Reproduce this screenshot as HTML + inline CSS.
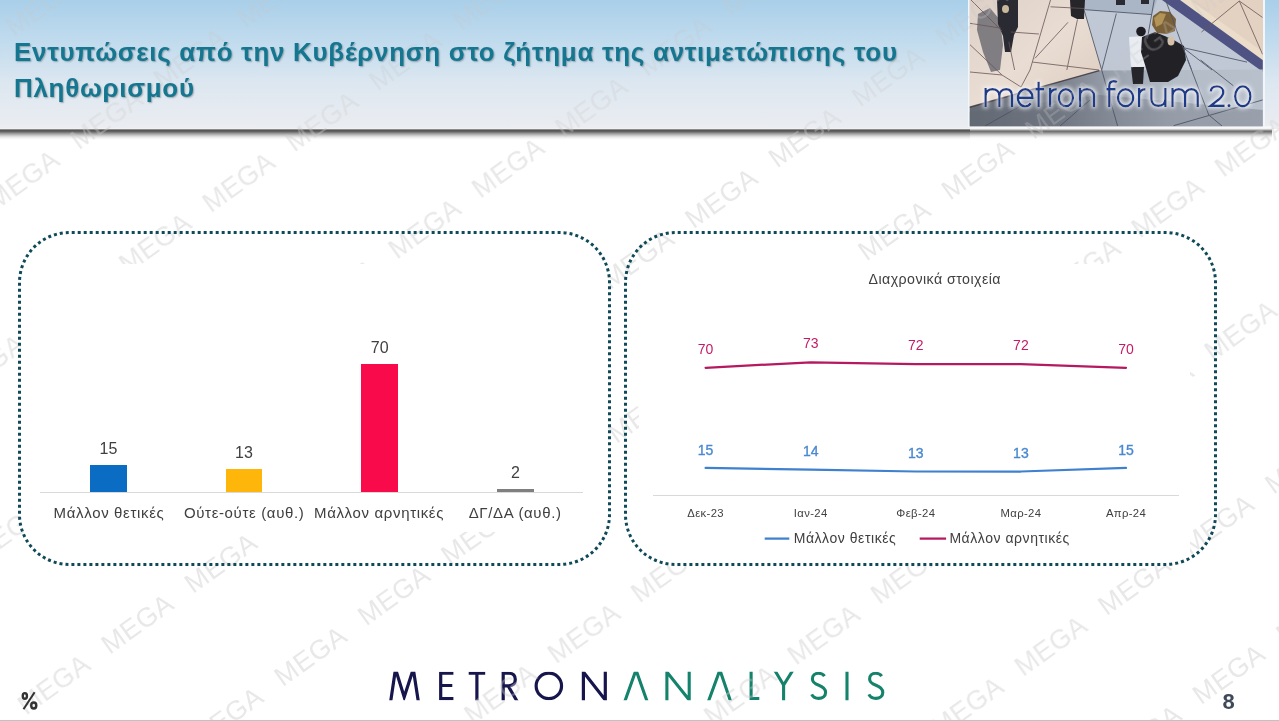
<!DOCTYPE html>
<html><head><meta charset="utf-8">
<style>
*{margin:0;padding:0;box-sizing:border-box}
html,body{width:1279px;height:721px;overflow:hidden;background:#fff}
body{position:relative;font-family:"Liberation Sans",sans-serif;color:#404040}
.a{position:absolute}
#hdr{left:0;top:0;width:1279px;height:129px;background:linear-gradient(to bottom,#a9cfe9 0%,#c3dcee 35%,#dde7f0 65%,#ebedf1 100%)}
#shad{left:0;top:128px;width:1272px;height:12px;background:linear-gradient(to bottom,#f0f1f3 0px,#f0f1f3 1px,#8c8c8c 1px,#8c8c8c 2px,#575757 2px,#575757 3px,#626262 3px,#626262 4px,#7e7e7e 4px,#7e7e7e 5px,#999999 5px,#999999 6px,#b2b2b2 6px,#b2b2b2 7px,#c9c9c9 7px,#c9c9c9 8px,#dddddd 8px,#dddddd 9px,#ececec 9px,#ececec 10px,#f6f6f6 10px,#f6f6f6 11px,#fdfdfd 11px,#fdfdfd 12px)}
#shad2{left:969.5px;top:126px;width:302.5px;height:13px;background:linear-gradient(to bottom,#f6f6f6 0px,#f6f6f6 1px,#f8f8f8 1px,#f8f8f8 2px,#f4f4f4 2px,#f4f4f4 3px,#c8c8c8 3px,#c8c8c8 4px,#8e8e8e 4px,#8e8e8e 5px,#727272 5px,#727272 6px,#8a8a8a 6px,#8a8a8a 7px,#a6a6a6 7px,#a6a6a6 8px,#c2c2c2 8px,#c2c2c2 9px,#d9d9d9 9px,#d9d9d9 10px,#ebebeb 10px,#ebebeb 11px,#f6f6f6 11px,#f6f6f6 12px,#fcfcfc 12px,#fcfcfc 13px)}
#wm{left:0;top:0}
#wm text{font-family:"Liberation Sans",sans-serif;font-size:27px;letter-spacing:.5px;fill:rgb(200,200,200);fill-opacity:.42}
#title{left:14px;top:34px;font-weight:bold;font-size:26px;line-height:36px;letter-spacing:.69px;color:#14768f;text-shadow:1px 1px 1.5px rgba(40,50,60,.35);white-space:nowrap}
.w{background:#fff}
.t{white-space:nowrap;line-height:1}
.lbl{font-size:15px;letter-spacing:.65px;color:#404040}
.num{font-size:16px;color:#404040;width:60px;text-align:center}
.xl{font-size:11.3px;letter-spacing:.35px;color:#404040;width:80px;text-align:center}
.ml{font-size:14px;color:#c41b68;width:40px;text-align:center}
.bl{font-size:14px;color:#4a88d0;width:40px;text-align:center;-webkit-text-stroke:.35px #4a88d0}
</style></head><body>
<div id="hdr" class="a"></div>
<div id="shad" class="a"></div>
<div id="shad2" class="a"></div>
<div class="a" style="left:968px;top:0;width:296.5px;height:127px;background:#f3f6f9"></div>

<!-- photo -->
<svg class="a" style="left:0;top:0" width="1279" height="130">
 <defs>
  <clipPath id="pc"><rect x="969.5" y="0" width="293.3" height="126.3"/></clipPath>
  <linearGradient id="lowg" x1="0" y1="0" x2="1" y2="0">
   <stop offset="0" stop-color="#666c76"/><stop offset=".3" stop-color="#7a808b"/><stop offset=".5" stop-color="#9aa2ae"/><stop offset=".7" stop-color="#b4bcc8"/><stop offset="1" stop-color="#b8c0cc"/>
  </linearGradient>
  <linearGradient id="beig" x1="0" y1="0" x2="1" y2="1">
   <stop offset="0" stop-color="#ded0c6"/><stop offset=".5" stop-color="#e9ddd3"/><stop offset="1" stop-color="#dccabd"/>
  </linearGradient>
  <filter id="glow" x="-10%" y="-30%" width="120%" height="160%">
   <feMorphology in="SourceAlpha" operator="dilate" radius="1.4" result="d"/>
   <feGaussianBlur in="d" stdDeviation="1.9" result="b"/>
   <feFlood flood-color="#f4f6fa" flood-opacity=".95"/>
   <feComposite in2="b" operator="in" result="g"/>
   <feMerge><feMergeNode in="g"/><feMergeNode in="SourceGraphic"/></feMerge>
  </filter>
  <filter id="soft"><feGaussianBlur stdDeviation="0.6"/></filter>
 </defs>
 <g clip-path="url(#pc)">
  <rect x="969.5" y="0" width="293.3" height="127" fill="#c0c8d5"/>
  <polygon points="969.5,0 1084.3,0 1084.3,10.7 1101.7,70 1099.3,70.6 969.5,107.2" fill="url(#beig)"/>
  <polygon points="1084.3,0 1157,0 1152,14.6 1085.2,9.7" fill="#aab5c6"/>
  <polygon points="1179,0 1263,0 1263,60.8" fill="#e3d2c2"/>
  <polygon points="1179,0 1190,0 1263,52 1263,60.8" fill="#ece0cc" opacity=".8"/>
  <polygon points="1162,0 1180,0 1263,60.2 1263,72" fill="#4f5384"/>
  <polygon points="969.5,107.2 1099.3,70.6 1263,69.6 1263,127 969.5,127" fill="url(#lowg)"/>
  <polygon points="969.5,112 1100,95 1263,110 1263,127 969.5,127" fill="#5f6570" opacity=".35"/>
  <g filter="url(#soft)">
   <polygon points="978,14 990,8 1000,20 1003,45 1000,70 991,72 983,52 977,30" fill="#6e6f74" opacity=".85"/>
   <polygon points="997,0 1018,0 1018,27 1014,35 1011,52 1005,52 1003,36 998,24" fill="#2b2b31"/>
   <ellipse cx="1005.5" cy="9" rx="3.5" ry="4" fill="#c9b89a"/>
   <polygon points="1070,0 1085,0 1084,19 1077,19 1071,16" fill="#26262b"/>
   <rect x="1116" y="0" width="9" height="5" fill="#2c2c30"/>
   <rect x="1141" y="0" width="8" height="4" fill="#2c2c30"/>
   <polygon points="1129,37 1147,36 1149,66 1131,68" fill="#e9edf1"/>
   <polygon points="1131,67 1144,67 1143,84 1133,84" fill="#25252a"/>
   <circle cx="1141" cy="31.5" r="4.8" fill="#1d1d22"/>
   <polygon points="1142,37 1155,32 1172,39 1184,46 1186,60 1178,76 1168,82 1150,82 1146,68 1141,52" fill="#222228"/>
   <polygon points="1153,16 1160,11 1170,12 1176,19 1175,31 1167,34 1157,33 1152,25" fill="#7a6038"/><polygon points="1154,18 1160,13 1166,14 1162,24 1156,27" fill="#b29358"/>
   <ellipse cx="1171" cy="41" rx="3.5" ry="4.5" fill="#d5c1a9"/>
  </g>
  <g stroke="#6a5558" stroke-width="1" fill="none" opacity=".8">
   <line x1="971" y1="0" x2="1002" y2="31"/>
   <line x1="970" y1="23.3" x2="1001" y2="28.2"/>
   <line x1="970" y1="44.7" x2="1002" y2="75"/>
   <line x1="1050.5" y1="0" x2="1030" y2="70"/>
   <line x1="1030" y1="70" x2="1021" y2="87"/>
   <line x1="1010.7" y1="32" x2="1038.9" y2="34"/>
   <line x1="1068" y1="22.3" x2="1035" y2="58.3"/>
   <line x1="1050.5" y1="6.8" x2="1084" y2="8.5"/>
   <line x1="1032" y1="62" x2="1099" y2="70"/>
   <line x1="1008.8" y1="41.7" x2="1014.6" y2="70"/>
   <line x1="1077.5" y1="19.4" x2="1066.8" y2="70"/>
   <line x1="1002" y1="75" x2="1021" y2="87"/>
   <line x1="970" y1="72" x2="1002" y2="75"/>
   <line x1="1239.3" y1="1" x2="1262.6" y2="54.4"/>
   <line x1="1239.3" y1="1" x2="1201.5" y2="32"/>
   <line x1="1239.3" y1="1" x2="1262.6" y2="17.5"/>
  </g>
  <g stroke="#4b5364" stroke-width="1" fill="none" opacity=".85">
   <line x1="1084.3" y1="10.7" x2="1101.7" y2="70"/>
   <line x1="1085.2" y1="9.7" x2="1152" y2="14.6"/>
   <line x1="1116.3" y1="13.6" x2="1101.7" y2="70"/>
   <line x1="1154.2" y1="0" x2="1147.4" y2="38.8"/>
   <line x1="1165.6" y1="0" x2="1183" y2="47.6"/>
   <line x1="1183" y1="47.6" x2="1247" y2="62.1"/>
   <line x1="1183" y1="47.6" x2="1212" y2="70"/>
   <line x1="1183" y1="47.6" x2="1191.7" y2="70"/>
   <line x1="1187.7" y1="60" x2="1208.8" y2="115"/>
   <line x1="1200.6" y1="60" x2="1233.4" y2="85.8"/>
   <line x1="1173.6" y1="125.7" x2="1262.8" y2="99.9"/>
   <line x1="1208.8" y1="115" x2="1222" y2="126"/>
   <line x1="1101.7" y1="70" x2="1117.6" y2="126"/>
   <line x1="1060" y1="126" x2="1090" y2="100"/>
   <line x1="985" y1="126" x2="1040" y2="95"/>
   <line x1="969.5" y1="107.2" x2="1099.3" y2="70.6" stroke="#3d3840" stroke-width="1.5"/>
  </g>
  <g filter="url(#glow)"><g fill="none" stroke="#1f3b89" stroke-width="2.4">
   <path d="M985.6,107 V88.1 M985.6,96 C985.6,91.5 988.6,89.3 992.5,89.3 C996.4,89.3 999.4,91.5 999.4,96 V107 M999.4,96 C999.4,91.5 1002.4,89.3 1006.2,89.3 C1010,89.3 1012,91.5 1012,96 V107"/>
   <path d="M1017.9,97.8 H1032.5 A7.3,8.5 0 1 0 1030.8,103.3"/>
   <path d="M1038.6,81.7 V107 M1035.4,89.3 H1044.2"/>
   <path d="M1050.1,88.1 V107 M1050.1,96 C1050.1,91.5 1052.5,89.3 1056.8,89.3"/>
   <ellipse cx="1065.9" cy="97.8" rx="7" ry="8.5"/>
   <path d="M1080,88.1 V107 M1080,96 C1080,91.5 1083.3,89.3 1087,89.3 C1090.7,89.3 1094,91.5 1094,96 V107"/>
   <path d="M1109.3,107 V86 C1109.3,82.5 1111,81.2 1113.5,81.2 C1115,81.2 1116.2,81.5 1117,82 M1106.4,89.3 H1115.6"/>
   <ellipse cx="1125.6" cy="97.8" rx="7.6" ry="8.5"/>
   <path d="M1139.1,88.1 V107 M1139.1,96 C1139.1,91.5 1141.5,89.3 1145.5,89.3"/>
   <path d="M1151.4,88.1 V99 C1151.4,103.5 1154.5,105.8 1158.4,105.8 C1162.3,105.8 1165.4,103.5 1165.4,99 M1165.4,88.1 V107"/>
   <path d="M1172.5,107 V88.1 M1172.5,96 C1172.5,91.5 1175.3,89.3 1178.8,89.3 C1182.3,89.3 1185.1,91.5 1185.1,96 V107 M1185.1,96 C1185.1,91.5 1187.9,89.3 1191.4,89.3 C1194.9,89.3 1197.7,91.5 1197.7,96 V107"/>
   <path d="M1210.8,91.5 C1211,88 1213.8,86.4 1217,86.4 C1220.6,86.4 1223.3,88.8 1223.3,92.2 C1223.3,95 1221.5,97 1219,99.3 L1210.6,105.8 H1224.7"/>
   <ellipse cx="1242.8" cy="96.35" rx="7.6" ry="9.95"/>
  </g><circle cx="1229" cy="105.6" r="1.6" fill="#1f3b89"/></g>
 </g>
</svg>


<!-- logo -->
<svg class="a" style="left:0;top:0" width="1279" height="721">
 <defs><clipPath id="lc"><rect x="380" y="671.7" width="520" height="28.5"/></clipPath></defs>
 <g clip-path="url(#lc)">
 <g fill="none" stroke="#17164c" stroke-width="3.2" stroke-linejoin="miter" stroke-miterlimit="10">
  <path d="M390.6,702 L395.5,669 L404.2,697 L413.3,669 L418.4,702"/>
  <path d="M453.4,673.25 H440.7 V698.55 H453.4 M440.7,685.5 H452.3"/>
  <path d="M468.7,673.25 H485.2 M476.9,673 V702"/>
  <path d="M503.2,702 V673.25 H509 C513.5,673.25 515.3,676 515.3,679.6 C515.3,683.3 513,685.8 508.5,685.8 H503.2 M508.2,686 L517.5,702"/>
  <circle cx="548.85" cy="685.9" r="12.7"/>
  <path d="M583.4,702 V672 L605.3,700 V670"/>
 </g>
 <g fill="none" stroke="#15836c" stroke-width="3.1" stroke-linejoin="miter" stroke-miterlimit="10">
  <path d="M624.6,702 L636,670 L647.3,702"/>
  <path d="M666.9,702 V672 L689.2,700 V670"/>
  <path d="M708.2,702 L719.9,670 L730.8,702"/>
  <path d="M751.1,670 V698.55 H759.3"/>
  <path d="M774.6,670 L783.6,685 L793,670 M783.6,685 V702"/>
  <path d="M 824.5 676.2 C 823.2 674.2 821 673.2 818.5 673.2 C 814.6 673.2 812.4 675.8 812.4 678.9 C 812.4 682.6 815.4 684 818.8 685.3 C 822.8 686.8 825.6 688.6 825.6 692.6 C 825.6 696.3 822.6 698.4 818.6 698.4 C 815.3 698.4 813 697 811.7 694.4"/>
  <path d="M847,670 V702"/>
  <path d="M 881.7 676.2 C 880.4 674.2 878.2 673.2 875.7 673.2 C 871.8 673.2 869.6 675.8 869.6 678.9 C 869.6 682.6 872.6 684.0 876.0 685.3 C 880.0 686.8 882.8 688.6 882.8 692.6 C 882.8 696.3 879.8 698.4 875.8 698.4 C 872.5 698.4 870.2 697.0 868.9 694.4"/>
 </g>
 </g>
</svg>

<svg id="wm" class="a" width="1279" height="721"><defs><mask id="wmm"><rect x="0" y="0" width="1279" height="128" fill="#aaa"/><rect x="0" y="128" width="1279" height="600" fill="#fff"/></mask></defs><g mask="url(#wmm)">
<text transform="translate(-69.2 98.1) rotate(-35.7)">MEGA</text>
<text transform="translate(14.2 37.3) rotate(-35.7)">MEGA</text>
<text transform="translate(97.6 -23.5) rotate(-35.7)">MEGA</text>
<text transform="translate(-87.9 272.0) rotate(-35.7)">MEGA</text>
<text transform="translate(-4.5 211.2) rotate(-35.7)">MEGA</text>
<text transform="translate(78.9 150.4) rotate(-35.7)">MEGA</text>
<text transform="translate(162.3 89.6) rotate(-35.7)">MEGA</text>
<text transform="translate(245.7 28.8) rotate(-35.7)">MEGA</text>
<text transform="translate(-39.2 395.8) rotate(-35.7)">MEGA</text>
<text transform="translate(44.2 335.0) rotate(-35.7)">MEGA</text>
<text transform="translate(127.6 274.2) rotate(-35.7)">MEGA</text>
<text transform="translate(211.0 213.4) rotate(-35.7)">MEGA</text>
<text transform="translate(294.4 152.6) rotate(-35.7)">MEGA</text>
<text transform="translate(377.8 91.8) rotate(-35.7)">MEGA</text>
<text transform="translate(461.2 31.0) rotate(-35.7)">MEGA</text>
<text transform="translate(-103.4 624.6) rotate(-35.7)">MEGA</text>
<text transform="translate(-20.0 563.8) rotate(-35.7)">MEGA</text>
<text transform="translate(63.4 503.0) rotate(-35.7)">MEGA</text>
<text transform="translate(146.8 442.2) rotate(-35.7)">MEGA</text>
<text transform="translate(230.2 381.4) rotate(-35.7)">MEGA</text>
<text transform="translate(313.6 320.6) rotate(-35.7)">MEGA</text>
<text transform="translate(397.0 259.8) rotate(-35.7)">MEGA</text>
<text transform="translate(480.4 199.0) rotate(-35.7)">MEGA</text>
<text transform="translate(563.8 138.2) rotate(-35.7)">MEGA</text>
<text transform="translate(647.2 77.4) rotate(-35.7)">MEGA</text>
<text transform="translate(730.6 16.6) rotate(-35.7)">MEGA</text>
<text transform="translate(-57.1 776.5) rotate(-35.7)">MEGA</text>
<text transform="translate(26.3 715.7) rotate(-35.7)">MEGA</text>
<text transform="translate(109.7 654.9) rotate(-35.7)">MEGA</text>
<text transform="translate(193.1 594.1) rotate(-35.7)">MEGA</text>
<text transform="translate(276.5 533.3) rotate(-35.7)">MEGA</text>
<text transform="translate(359.9 472.5) rotate(-35.7)">MEGA</text>
<text transform="translate(443.3 411.7) rotate(-35.7)">MEGA</text>
<text transform="translate(526.7 350.9) rotate(-35.7)">MEGA</text>
<text transform="translate(610.1 290.1) rotate(-35.7)">MEGA</text>
<text transform="translate(693.5 229.3) rotate(-35.7)">MEGA</text>
<text transform="translate(776.9 168.5) rotate(-35.7)">MEGA</text>
<text transform="translate(860.3 107.7) rotate(-35.7)">MEGA</text>
<text transform="translate(943.7 46.9) rotate(-35.7)">MEGA</text>
<text transform="translate(1027.1 -13.9) rotate(-35.7)">MEGA</text>
<text transform="translate(116.0 808.8) rotate(-35.7)">MEGA</text>
<text transform="translate(199.4 748.0) rotate(-35.7)">MEGA</text>
<text transform="translate(282.8 687.2) rotate(-35.7)">MEGA</text>
<text transform="translate(366.2 626.4) rotate(-35.7)">MEGA</text>
<text transform="translate(449.6 565.6) rotate(-35.7)">MEGA</text>
<text transform="translate(533.0 504.8) rotate(-35.7)">MEGA</text>
<text transform="translate(616.4 444.0) rotate(-35.7)">MEGA</text>
<text transform="translate(699.8 383.2) rotate(-35.7)">MEGA</text>
<text transform="translate(783.2 322.4) rotate(-35.7)">MEGA</text>
<text transform="translate(866.6 261.6) rotate(-35.7)">MEGA</text>
<text transform="translate(950.0 200.8) rotate(-35.7)">MEGA</text>
<text transform="translate(1033.4 140.0) rotate(-35.7)">MEGA</text>
<text transform="translate(1116.8 79.2) rotate(-35.7)">MEGA</text>
<text transform="translate(1200.2 18.4) rotate(-35.7)">MEGA</text>
<text transform="translate(389.4 786.0) rotate(-35.7)">MEGA</text>
<text transform="translate(472.8 725.2) rotate(-35.7)">MEGA</text>
<text transform="translate(556.2 664.4) rotate(-35.7)">MEGA</text>
<text transform="translate(639.6 603.6) rotate(-35.7)">MEGA</text>
<text transform="translate(723.0 542.8) rotate(-35.7)">MEGA</text>
<text transform="translate(806.4 482.0) rotate(-35.7)">MEGA</text>
<text transform="translate(889.8 421.2) rotate(-35.7)">MEGA</text>
<text transform="translate(973.2 360.4) rotate(-35.7)">MEGA</text>
<text transform="translate(1056.6 299.6) rotate(-35.7)">MEGA</text>
<text transform="translate(1140.0 238.8) rotate(-35.7)">MEGA</text>
<text transform="translate(1223.4 178.0) rotate(-35.7)">MEGA</text>
<text transform="translate(1306.8 117.2) rotate(-35.7)">MEGA</text>
<text transform="translate(629.2 787.4) rotate(-35.7)">MEGA</text>
<text transform="translate(712.6 726.6) rotate(-35.7)">MEGA</text>
<text transform="translate(796.0 665.8) rotate(-35.7)">MEGA</text>
<text transform="translate(879.4 605.0) rotate(-35.7)">MEGA</text>
<text transform="translate(962.8 544.2) rotate(-35.7)">MEGA</text>
<text transform="translate(1046.2 483.4) rotate(-35.7)">MEGA</text>
<text transform="translate(1129.6 422.6) rotate(-35.7)">MEGA</text>
<text transform="translate(1213.0 361.8) rotate(-35.7)">MEGA</text>
<text transform="translate(1296.4 301.0) rotate(-35.7)">MEGA</text>
<text transform="translate(856.4 798.7) rotate(-35.7)">MEGA</text>
<text transform="translate(939.8 737.9) rotate(-35.7)">MEGA</text>
<text transform="translate(1023.2 677.1) rotate(-35.7)">MEGA</text>
<text transform="translate(1106.6 616.3) rotate(-35.7)">MEGA</text>
<text transform="translate(1190.0 555.5) rotate(-35.7)">MEGA</text>
<text transform="translate(1273.4 494.7) rotate(-35.7)">MEGA</text>
<text transform="translate(1117.6 766.1) rotate(-35.7)">MEGA</text>
<text transform="translate(1201.0 705.3) rotate(-35.7)">MEGA</text>
<text transform="translate(1284.4 644.5) rotate(-35.7)">MEGA</text>
</g></svg>

<div id="title" class="a">Εντυπώσεις από την Κυβέρνηση στο ζήτημα της αντιμετώπισης του<br>Πληθωρισμού</div>

<!-- chart white areas -->
<div class="a w" style="left:21px;top:263.5px;width:587px;height:268.5px"></div>
<div class="a w" style="left:638.7px;top:263.5px;width:551.3px;height:302.5px"></div>

<!-- boxes -->
<svg class="a" style="left:0;top:0" width="1279" height="721">
  <rect x="19.5" y="232.5" width="590" height="332" rx="50" ry="50" fill="none" stroke="#0f4a58" stroke-width="3" pathLength="1758" stroke-dasharray="3 3" stroke-dashoffset="-2.2"/>
  <rect x="625.5" y="232.5" width="590" height="332" rx="50" ry="50" fill="none" stroke="#0f4a58" stroke-width="3" pathLength="1758" stroke-dasharray="3 3" stroke-dashoffset="-2.2"/>
</svg>

<!-- bar chart -->
<div class="a" style="left:40px;top:492px;width:543px;height:1px;background:#d9d9d9"></div>
<div class="a" style="left:90px;top:465px;width:37px;height:27px;background:#0b6cc4"></div>
<div class="a" style="left:226px;top:469px;width:36px;height:23px;background:#ffb60a"></div>
<div class="a" style="left:361px;top:364px;width:37px;height:128px;background:#f80a4b"></div>
<div class="a" style="left:497px;top:489px;width:37px;height:3px;background:#7f7f7f"></div>
<div class="a t num" style="left:78.4px;top:441.3px">15</div>
<div class="a t num" style="left:214px;top:445.3px">13</div>
<div class="a t num" style="left:349.7px;top:340.3px">70</div>
<div class="a t num" style="left:485.5px;top:465.3px">2</div>
<div class="a t lbl" style="left:53.6px;top:505.3px">Μάλλον θετικές</div>
<div class="a t lbl" style="left:183.9px;top:505.3px">Ούτε-ούτε (αυθ.)</div>
<div class="a t lbl" style="left:314px;top:505.3px">Μάλλον αρνητικές</div>
<div class="a t lbl" style="left:468.7px;top:505.3px">ΔΓ/ΔΑ (αυθ.)</div>

<!-- line chart -->
<div class="a t" style="left:868.5px;top:271.8px;font-size:14.2px;letter-spacing:.45px;color:#404040">Διαχρονικά στοιχεία</div>
<div class="a" style="left:653px;top:495px;width:525.5px;height:1px;background:#d9d9d9"></div>
<svg class="a" style="left:0;top:0" width="1279" height="721">
  <polyline points="705.6,367.8 810.7,362.3 915.8,364.2 1020.9,364.2 1126,367.8" fill="none" stroke="#b5195f" stroke-width="2.25" stroke-linejoin="round" stroke-linecap="round"/>
  <polyline points="705.6,467.9 810.7,469.7 915.8,471.5 1020.9,471.5 1126,467.9" fill="none" stroke="#3f80cf" stroke-width="2.25" stroke-linejoin="round" stroke-linecap="round"/>
  <line x1="764.7" y1="538.6" x2="789.3" y2="538.6" stroke="#3f80cf" stroke-width="2.25"/>
  <line x1="919.7" y1="538.6" x2="946.1" y2="538.6" stroke="#b5195f" stroke-width="2.25"/>
</svg>
<div class="a t ml" style="left:685.6px;top:341.95px">70</div>
<div class="a t ml" style="left:790.7px;top:336.45px">73</div>
<div class="a t ml" style="left:895.8px;top:338.35px">72</div>
<div class="a t ml" style="left:1000.9px;top:338.35px">72</div>
<div class="a t ml" style="left:1106.0px;top:341.95px">70</div>
<div class="a t bl" style="left:685.6px;top:443.15px">15</div>
<div class="a t bl" style="left:790.7px;top:443.95px">14</div>
<div class="a t bl" style="left:895.8px;top:445.75px">13</div>
<div class="a t bl" style="left:1000.9px;top:445.75px">13</div>
<div class="a t bl" style="left:1106.0px;top:443.15px">15</div>
<div class="a t xl" style="left:665.6px;top:508.2px">Δεκ-23</div>
<div class="a t xl" style="left:770.7px;top:508.2px">Ιαν-24</div>
<div class="a t xl" style="left:875.8px;top:508.2px">Φεβ-24</div>
<div class="a t xl" style="left:980.9px;top:508.2px">Μαρ-24</div>
<div class="a t xl" style="left:1086.0px;top:508.2px">Απρ-24</div>
<div class="a t" style="left:793.7px;top:530.85px;font-size:14px;letter-spacing:.55px;color:#404040">Μάλλον θετικές</div>
<div class="a t" style="left:949.4px;top:530.85px;font-size:14px;letter-spacing:.55px;color:#404040">Μάλλον αρνητικές</div>

<!-- footer -->
<svg class="a" style="left:0;top:680px" width="50" height="40"><g transform="translate(0,-680)" fill="none" stroke="#333" stroke-width="2.4">
 <ellipse cx="24.85" cy="695.95" rx="2.1" ry="2.8"/><ellipse cx="33.75" cy="705.5" rx="2.55" ry="3.0"/>
 <line x1="34.6" y1="692.3" x2="23.5" y2="709.3" stroke-width="2.1"/></g></svg>
<div class="a t" style="left:1222.5px;top:690.5px;font-weight:bold;font-size:22px;color:#3e4a5a">8</div>
<div class="a" style="left:0;top:720px;width:1279px;height:1px;background:#c2c2c2"></div>
</body></html>
